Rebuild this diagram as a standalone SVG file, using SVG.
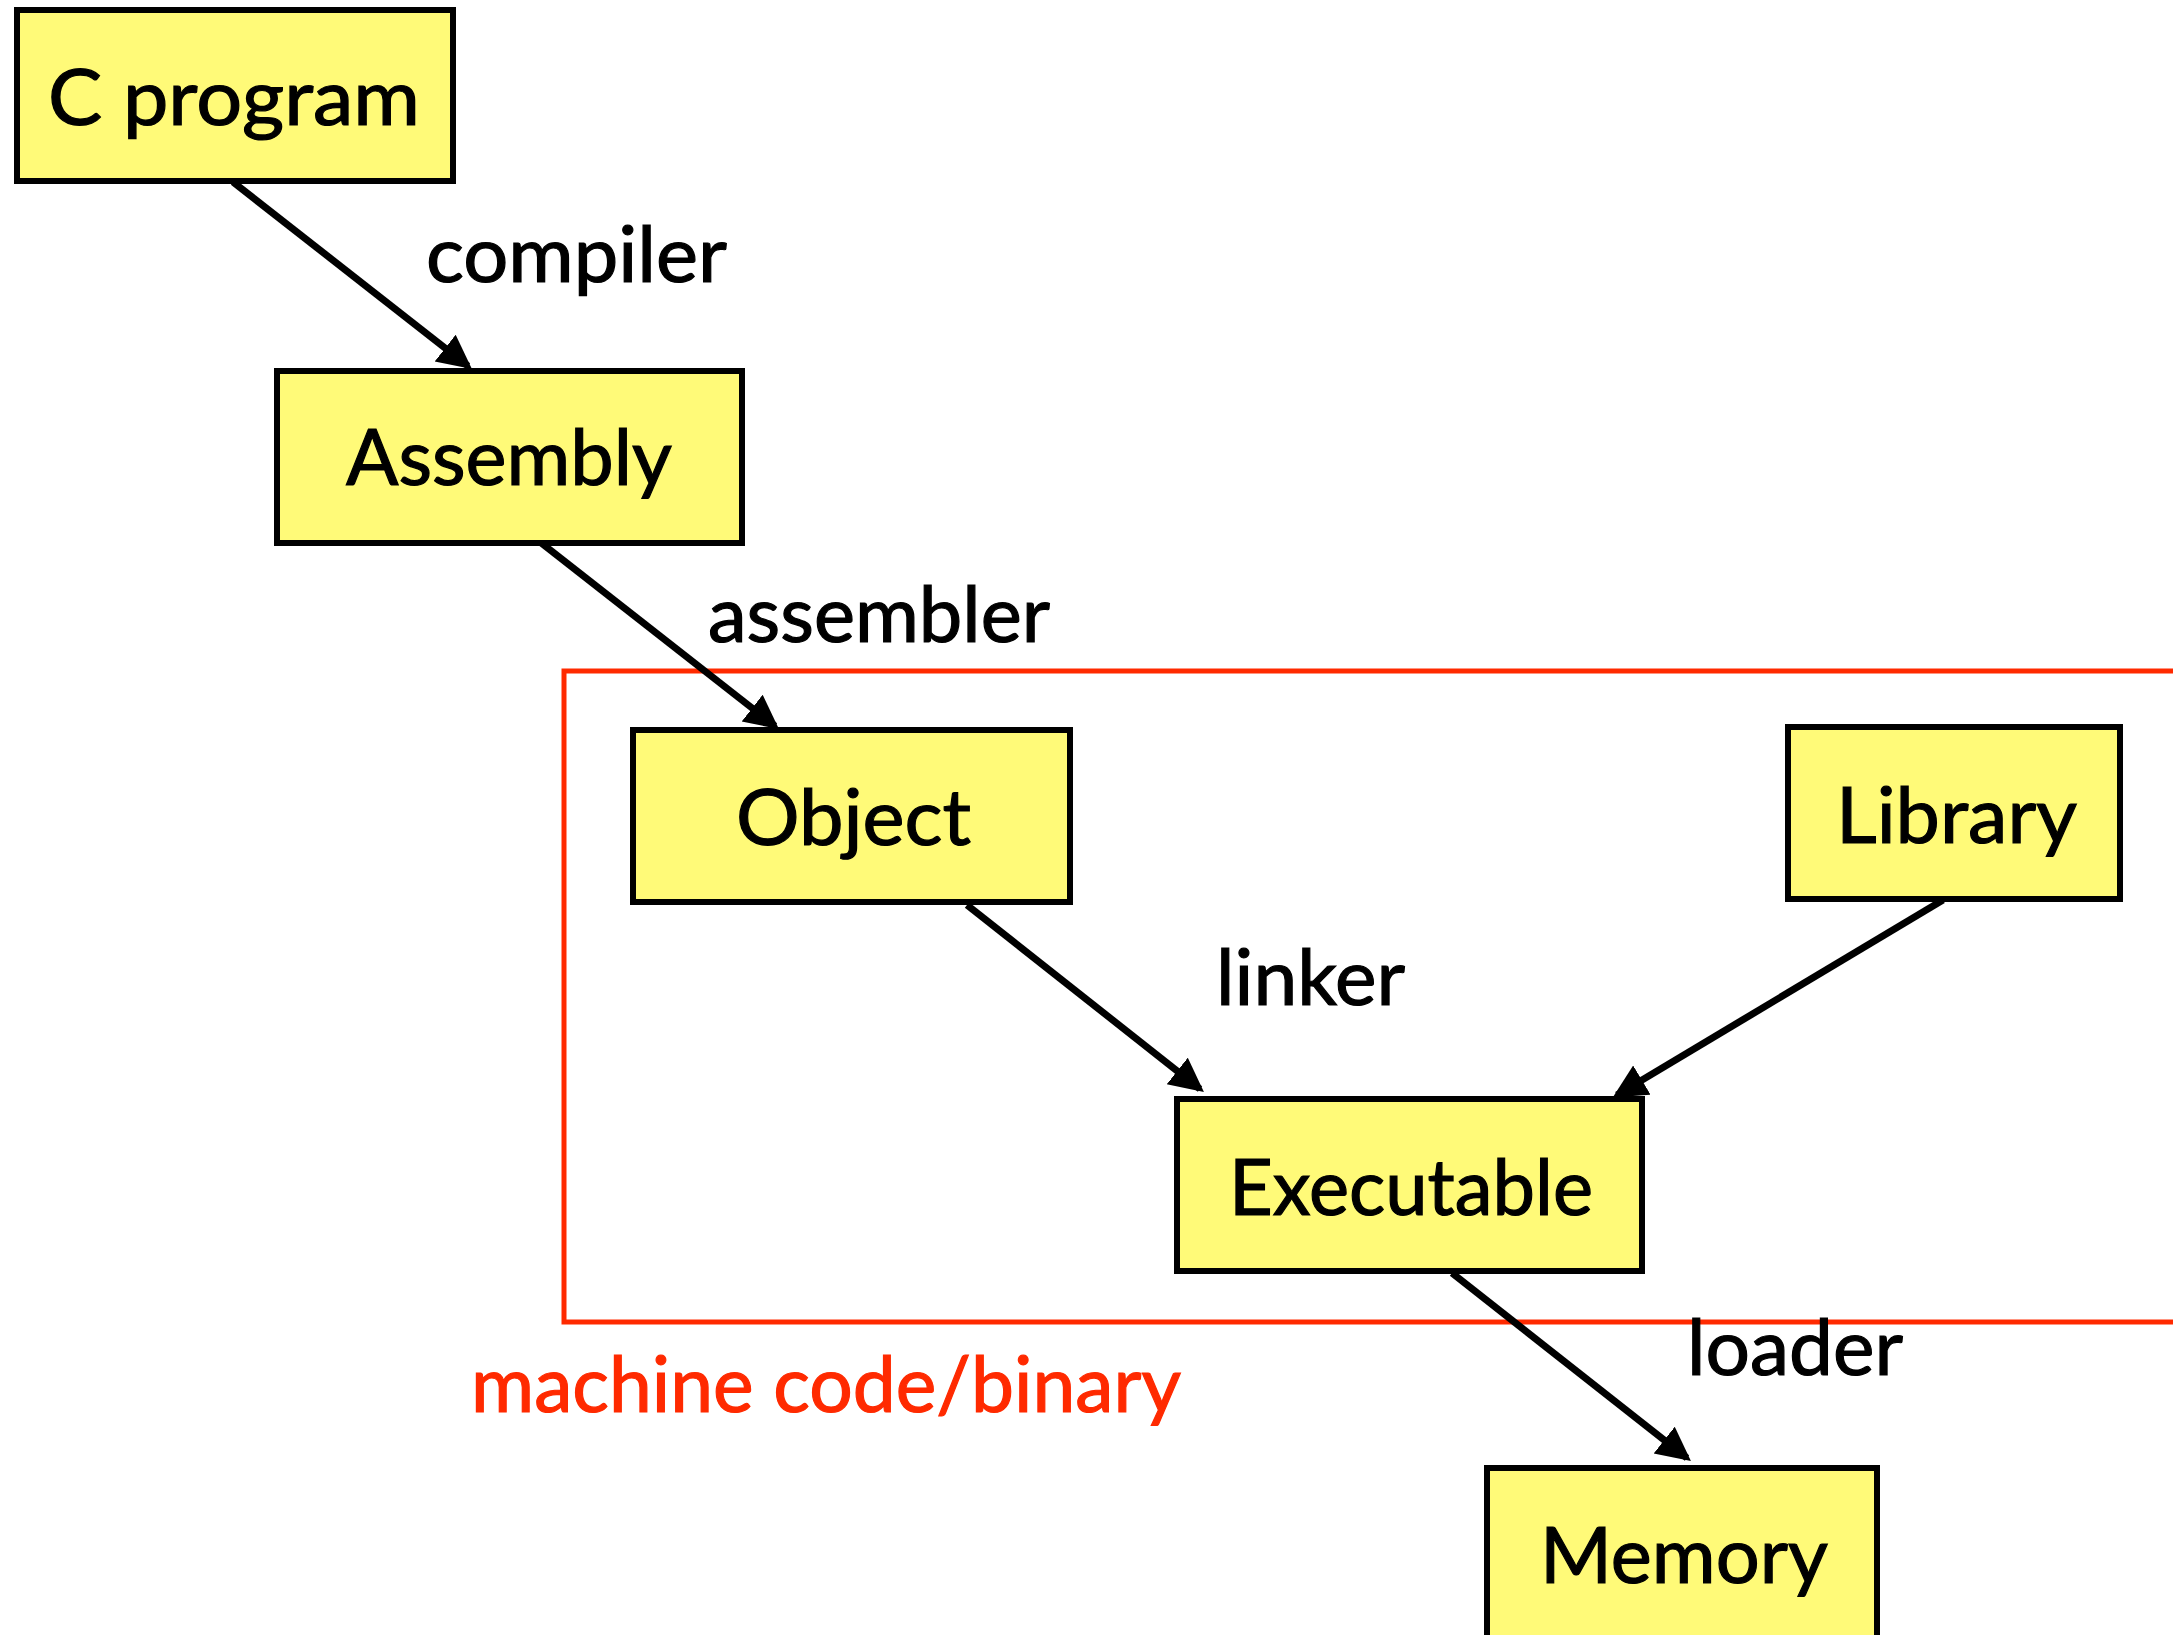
<svg xmlns="http://www.w3.org/2000/svg" width="2173" height="1635" viewBox="0 0 2173 1635">
<style>
.box{fill:#fffa78;stroke:#000;stroke-width:6}
.lbl{font-family:Lato,"Open Sans","Liberation Sans",sans-serif;font-size:78px;fill:#000;stroke:#000;stroke-width:1.2}
.edge{stroke:#000;stroke-width:7;fill:none;marker-end:url(#ah)}
.red{font-family:Lato,"Open Sans","Liberation Sans",sans-serif;font-size:78px;fill:#ff2a00;stroke:#ff2a00;stroke-width:1.2}
</style>
<defs>
<marker id="ah" markerUnits="userSpaceOnUse" markerWidth="40" markerHeight="40" refX="29" refY="17" orient="auto">
<path d="M0,0 L34,17 L0,34 z" fill="#000"/>
</marker>
</defs>
<rect width="2173" height="1635" fill="#fff"/>
<g id="region">
<rect x="564" y="671" width="1620" height="651" fill="none" stroke="#ff2a00" stroke-width="5"/>
<text class="red" x="471" y="1412" textLength="710" lengthAdjust="spacingAndGlyphs">machine code/binary</text>
</g>
<g id="connectors">
<line class="edge" x1="233" y1="182" x2="468" y2="366"/>
<line class="edge" x1="540" y1="542" x2="775" y2="726"/>
<line class="edge" x1="967" y1="905" x2="1200" y2="1089"/>
<line class="edge" x1="1943" y1="900" x2="1617" y2="1095"/>
<line class="edge" x1="1452" y1="1273" x2="1687" y2="1458"/>
<text class="lbl" x="426" y="282" textLength="301" lengthAdjust="spacingAndGlyphs">compiler</text>
<text class="lbl" x="708" y="642" textLength="342" lengthAdjust="spacingAndGlyphs">assembler</text>
<text class="lbl" x="1216" y="1005" textLength="189" lengthAdjust="spacingAndGlyphs">linker</text>
<text class="lbl" x="1687" y="1375" textLength="216" lengthAdjust="spacingAndGlyphs">loader</text>
</g>
<g id="cprogram">
<rect class="box" x="17" y="10" width="436" height="171"/>
<text class="lbl" x="48" y="125" textLength="372" lengthAdjust="spacingAndGlyphs">C program</text>
</g>
<g id="assembly">
<rect class="box" x="277" y="371" width="465" height="172"/>
<text class="lbl" x="346" y="485" textLength="326" lengthAdjust="spacingAndGlyphs">Assembly</text>
</g>
<g id="object">
<rect class="box" x="633" y="730" width="437" height="172"/>
<text class="lbl" x="736" y="845" textLength="235" lengthAdjust="spacingAndGlyphs">Object</text>
</g>
<g id="library">
<rect class="box" x="1788" y="727" width="332" height="172"/>
<text class="lbl" x="1836" y="843" textLength="241" lengthAdjust="spacingAndGlyphs">Library</text>
</g>
<g id="executable">
<rect class="box" x="1177" y="1099" width="465" height="172"/>
<text class="lbl" x="1229" y="1215" textLength="364" lengthAdjust="spacingAndGlyphs">Executable</text>
</g>
<g id="memory">
<rect class="box" x="1487" y="1468" width="390" height="200"/>
<text class="lbl" x="1540" y="1583" textLength="288" lengthAdjust="spacingAndGlyphs">Memory</text>
</g>
</svg>
